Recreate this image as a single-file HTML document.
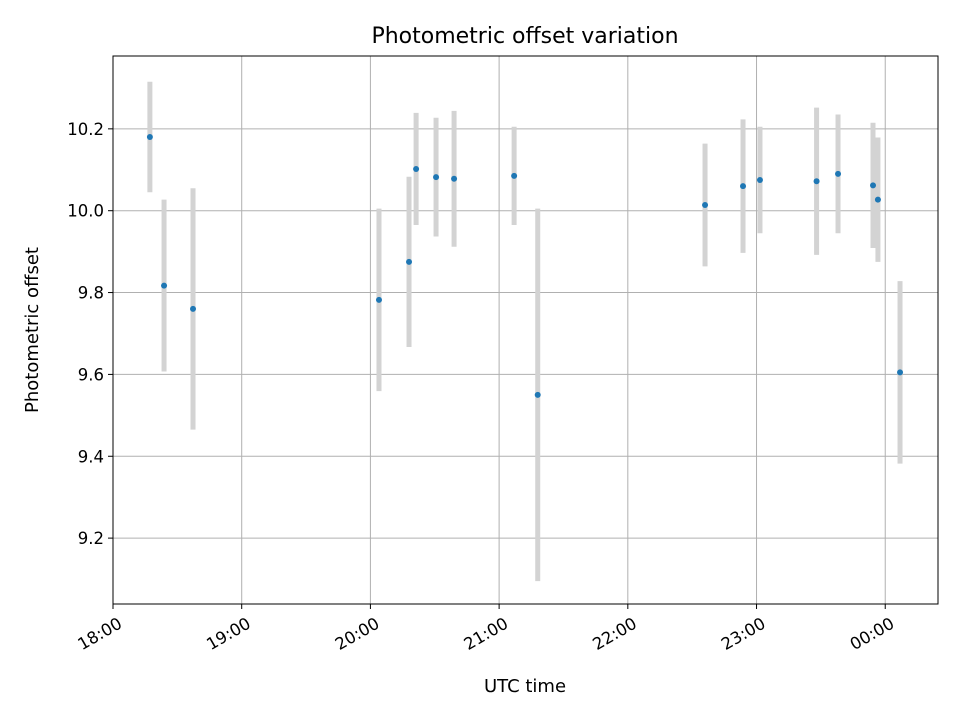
<!DOCTYPE html>
<html><head><meta charset="utf-8"><style>
body{margin:0;background:#fff;}
svg text{font-family:"DejaVu Sans","Liberation Sans",sans-serif;fill:#000;}
</style></head><body>
<svg id="chart" width="960" height="720" xmlns="http://www.w3.org/2000/svg">
<rect width="960" height="720" fill="#fff"/>
<g id="grid"></g>
<g id="bars"></g>
<g id="pts"></g>
<g id="axes"></g>
<text x="525" y="43" style="font-size:22px" text-anchor="middle">Photometric offset variation</text>
<text x="525" y="692" style="font-size:18px" text-anchor="middle">UTC time</text>
<text transform="translate(38,330) rotate(-90)" style="font-size:18px" text-anchor="middle">Photometric offset</text>
</svg>
<script>
// minutes since 18:00
const times=[17.2,23.8,37.3,124,138,141.3,150.6,159,187,198,276,293.7,301.6,328,338,354.3,356.6,366.9];
const values=[10.18,9.817,9.76,9.782,9.875,10.102,10.082,10.078,10.085,9.55,10.014,10.06,10.075,10.072,10.09,10.062,10.027,9.605];
const errors=[0.135,0.21,0.295,0.223,0.208,0.137,0.145,0.166,0.12,0.455,0.15,0.163,0.13,0.18,0.145,0.153,0.152,0.223];
const xTickMinutes=[0,60,120,180,240,300,360];
const xTickLabels=["18:00","19:00","20:00","21:00","22:00","23:00","00:00"];
const yTicks=[9.2,9.4,9.6,9.8,10.0,10.2];
const yTickLabels=["9.2","9.4","9.6","9.8","10.0","10.2"];

const L=113,R=938,T=56,B=604;
const xMin=0,xMax=384.6,yMin=9.039,yMax=10.378;
const X=m=>L+(m-xMin)/(xMax-xMin)*(R-L);
const Y=v=>B-(v-yMin)/(yMax-yMin)*(B-T);
const NS="http://www.w3.org/2000/svg";
function mk(tag,attrs,parent){const e=document.createElementNS(NS,tag);for(const k in attrs)e.setAttribute(k,attrs[k]);parent.appendChild(e);return e;}
const grid=document.getElementById('grid'),bars=document.getElementById('bars'),pts=document.getElementById('pts'),axes=document.getElementById('axes');

xTickMinutes.forEach((m,i)=>{
  const x=X(m);
  const g=mk('line',{x1:x,x2:x,y1:T,y2:B,stroke:'#b0b0b0','stroke-width':1},grid);
  
  
  const t=mk('line',{x1:x,x2:x,y1:B,y2:B+5,stroke:'#000','stroke-width':1},axes);
  
  
  const lb=mk('text',{style:'font-size:16.5px','text-anchor':'end',transform:`translate(${x+4},${B+12}) rotate(-30)`,dy:'0.75em'},axes);
  lb.textContent=xTickLabels[i];
  
  
});
yTicks.forEach((v,i)=>{
  const y=Y(v);
  const g=mk('line',{x1:L,x2:R,y1:y,y2:y,stroke:'#b0b0b0','stroke-width':1},grid);
  
  
  const t=mk('line',{x1:L-5,x2:L,y1:y,y2:y,stroke:'#000','stroke-width':1},axes);
  
  
  const lb=mk('text',{x:L-9,y:y+6,style:'font-size:16.5px','text-anchor':'end'},axes);
  lb.textContent=yTickLabels[i];
  
  
});
const frame=mk('rect',{x:L,y:T,width:R-L,height:B-T,fill:'none',stroke:'#000','stroke-width':1},axes);



times.forEach((m,i)=>{
  const x=X(m);
  const b=mk('line',{x1:x,x2:x,y1:Y(values[i]+errors[i]),y2:Y(values[i]-errors[i]),stroke:'#d3d3d3','stroke-width':5},bars);
  
  
  const c=mk('circle',{cx:x,cy:Y(values[i]),r:3,fill:'#1f77b4'},pts);
  
  
});
</script>
</body></html>
